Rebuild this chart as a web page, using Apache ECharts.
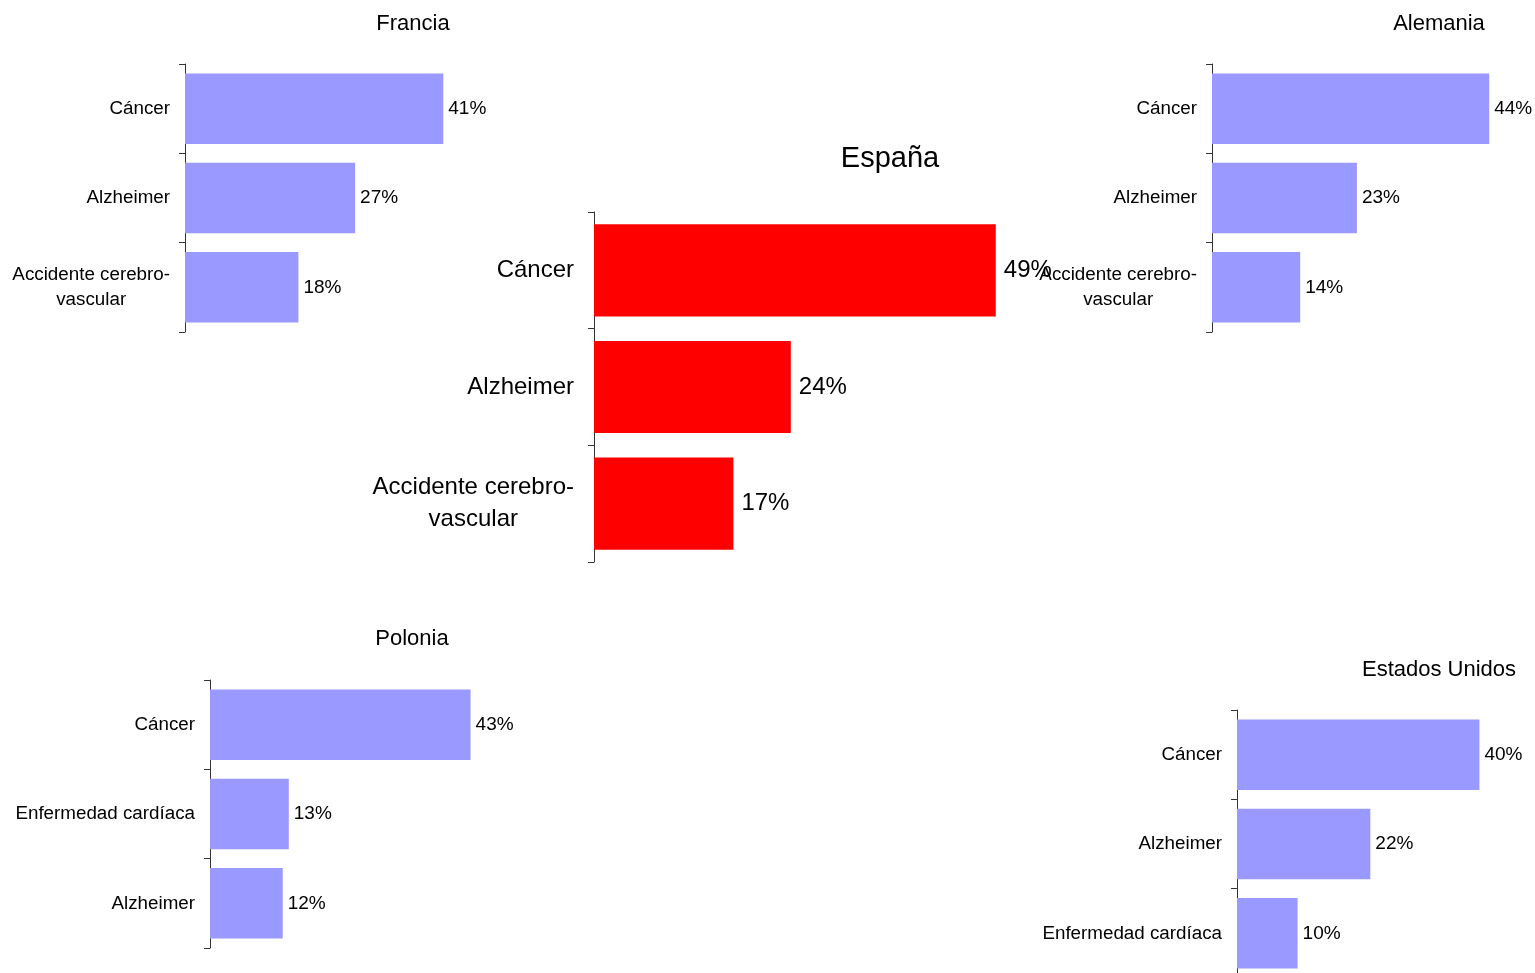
<!DOCTYPE html>
<html lang="es">
<head>
<meta charset="UTF-8">
<title>Causas de muerte</title>
<script src="https://cdn.jsdelivr.net/npm/echarts@6/dist/echarts.min.js"></script>
<style>
  html, body { margin: 0; padding: 0; background: #fff; overflow: hidden; }
  /* algo más grande que la ventana: el panel de EE.UU. se sale por abajo */
  #chart { width: 1600px; height: 1000px; }
</style>
</head>
<body>
<div id="chart"></div>
<script>
// datos
var franciaCats = ['Cáncer', 'Alzheimer', 'Accidente cerebro-\nvascular'];
var franciaVals = [41, 27, 18];
var alemaniaCats = ['Cáncer', 'Alzheimer', 'Accidente cerebro-\nvascular'];
var alemaniaVals = [44, 23, 14];
var espanaCats = ['Cáncer', 'Alzheimer', 'Accidente cerebro-\nvascular'];
var espanaVals = [49, 24, 17];
var poloniaCats = ['Cáncer', 'Enfermedad cardíaca', 'Alzheimer'];
var poloniaVals = [43, 13, 12];
var eeuuCats = ['Cáncer', 'Alzheimer', 'Enfermedad cardíaca'];
var eeuuVals = [40, 22, 10];

var FONT = 'Liberation Sans, Arial, sans-serif';

var panels = [
  {name: 'Francia', cats: franciaCats, vals: franciaVals, grid: {left: 185, top: 64, width: 315, height: 268}, tx: 413, ty: 13, color: '#9999FF', big: false},
  {name: 'Alemania', cats: alemaniaCats, vals: alemaniaVals, grid: {left: 1212, top: 64, width: 315, height: 268}, tx: 1439, ty: 13, color: '#9999FF', big: false},
  {name: 'España', cats: espanaCats, vals: espanaVals, grid: {left: 594, top: 212, width: 410, height: 350}, tx: 890, ty: 144, color: '#FF0000', big: true},
  {name: 'Polonia', cats: poloniaCats, vals: poloniaVals, grid: {left: 210, top: 680, width: 303, height: 268}, tx: 412, ty: 628, color: '#9999FF', big: false},
  {name: 'Estados Unidos', cats: eeuuCats, vals: eeuuVals, grid: {left: 1237, top: 710, width: 303, height: 268}, tx: 1439, ty: 659, color: '#9999FF', big: false}
];

var option = {
  animation: false,
  backgroundColor: '#fff',
  title: [], grid: [], xAxis: [], yAxis: [], series: []
};

panels.forEach(function (p, i) {
  var fs = p.big ? 24 : 18.8;
  var lh = p.big ? 32 : 25;
  option.title.push({
    text: p.name,
    left: p.tx,
    top: p.ty,
    padding: 0,
    textAlign: 'center',
    textStyle: {fontFamily: FONT, fontWeight: 'normal', color: '#000', fontSize: p.big ? 29 : 22}
  });
  option.grid.push(p.grid);
  option.xAxis.push({
    type: 'value', gridIndex: i, min: 0, max: 50, show: false
  });
  option.yAxis.push({
    type: 'category', gridIndex: i, inverse: true, data: p.cats,
    axisLine: {show: true, lineStyle: {color: '#333', width: 1}},
    axisTick: {show: true, length: 6, lineStyle: {color: '#333'}},
    splitLine: {show: false},
    axisLabel: {
      margin: p.big ? 20 : 15,
      color: '#000', fontFamily: FONT, fontSize: fs, lineHeight: lh,
      formatter: function (v) {
        return v.indexOf('\n') >= 0 ? '{c|' + v + '}' : v;
      },
      rich: {c: {align: 'center', fontSize: fs, lineHeight: lh, fontFamily: FONT, color: '#000'}}
    }
  });
  option.series.push({
    type: 'bar', xAxisIndex: i, yAxisIndex: i, data: p.vals,
    barCategoryGap: '21%',
    itemStyle: {color: p.color},
    label: {
      show: true, position: 'right', distance: p.big ? 8 : 5,
      formatter: '{c}%', color: '#000', fontFamily: FONT, fontSize: p.big ? 24 : 19
    }
  });
});

var chart = echarts.init(document.getElementById('chart'));
chart.setOption(option);
</script>
</body>
</html>
